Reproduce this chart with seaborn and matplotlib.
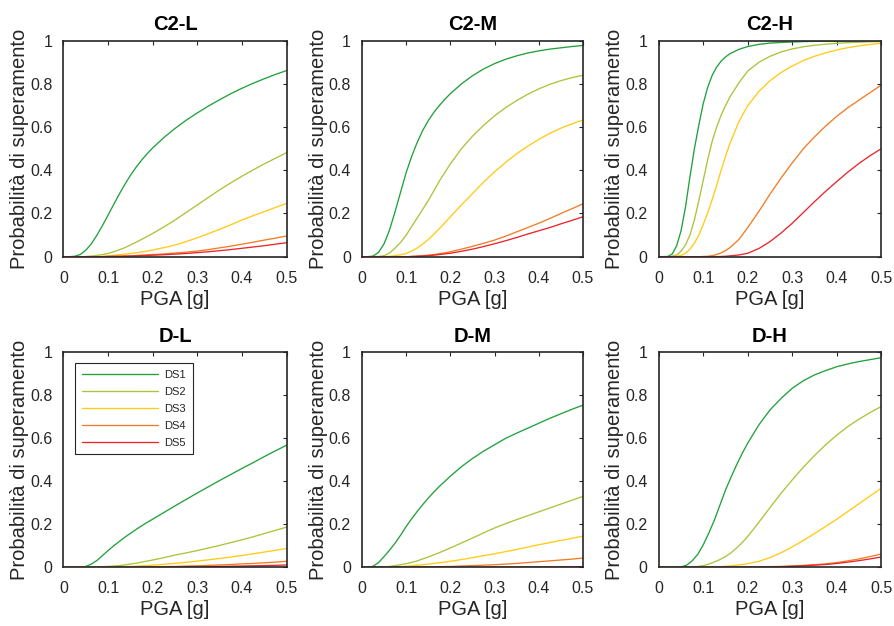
import matplotlib.pyplot as plt
import pandas as pd
import seaborn as sns

# PGA grid [g], denser at low PGA where the curves bend most
pga = [0.0, 0.0125, 0.025, 0.0375, 0.05, 0.0625, 0.075, 0.0875, 0.1, 0.1125, 0.125,
       0.1375, 0.15, 0.1625, 0.175, 0.1875, 0.2, 0.225, 0.25, 0.275, 0.3, 0.325,
       0.35, 0.375, 0.4, 0.425, 0.45, 0.475, 0.5]
# C2-H is read on its own grid because its curves are steep
pga_h = [0.0, 0.02, 0.03, 0.04, 0.05, 0.06, 0.07, 0.08, 0.09, 0.1, 0.11, 0.12,
         0.13, 0.14, 0.15, 0.16, 0.18, 0.2, 0.225, 0.25, 0.275, 0.3, 0.325,
         0.35, 0.375, 0.4, 0.425, 0.45, 0.475, 0.5]

damage_states = ["DS1", "DS2", "DS3", "DS4", "DS5"]
ds_colors = ["#21a13c", "#a9c53a", "#ffcb14", "#f47b25", "#e8262b"]

# exceedance probabilities, one row per damage state
c2_l = [
    [0, 0, 0.002, 0.01, 0.03, 0.06, 0.10, 0.145, 0.193, 0.242, 0.29, 0.335, 0.377, 0.414, 0.447, 0.477, 0.504,
     0.552, 0.594, 0.632, 0.666, 0.698, 0.727, 0.755, 0.78, 0.803, 0.824, 0.844, 0.862],
    [0, 0, 0, 0, 0.001, 0.003, 0.006, 0.01, 0.015, 0.023, 0.032, 0.042, 0.054, 0.067, 0.08, 0.094, 0.108,
     0.138, 0.17, 0.205, 0.24, 0.275, 0.31, 0.342, 0.373, 0.402, 0.43, 0.456, 0.482],
    [0, 0, 0, 0, 0, 0.0005, 0.001, 0.002, 0.004, 0.006, 0.009, 0.012, 0.015, 0.018, 0.022, 0.026, 0.031,
     0.042, 0.054, 0.07, 0.088, 0.107, 0.127, 0.148, 0.17, 0.19, 0.209, 0.228, 0.247],
    [0, 0, 0, 0, 0, 0, 0, 0, 0.001, 0.0015, 0.002, 0.003, 0.004, 0.0055, 0.007, 0.0085, 0.01,
     0.013, 0.017, 0.021, 0.026, 0.033, 0.041, 0.049, 0.058, 0.067, 0.077, 0.086, 0.096],
    [0, 0, 0, 0, 0, 0, 0, 0, 0.001, 0.0015, 0.002, 0.0025, 0.003, 0.004, 0.005, 0.006, 0.007,
     0.009, 0.012, 0.015, 0.019, 0.023, 0.028, 0.033, 0.039, 0.045, 0.051, 0.058, 0.065],
]
c2_m = [
    [0, 0, 0.003, 0.02, 0.06, 0.125, 0.21, 0.30, 0.39, 0.465, 0.53, 0.585, 0.63, 0.668, 0.70, 0.729, 0.755,
     0.80, 0.838, 0.869, 0.894, 0.914, 0.93, 0.943, 0.953, 0.961, 0.967, 0.973, 0.978],
    [0, 0, 0, 0.001, 0.005, 0.017, 0.04, 0.067, 0.10, 0.14, 0.18, 0.22, 0.26, 0.305, 0.35, 0.39, 0.43,
     0.50, 0.558, 0.608, 0.652, 0.69, 0.723, 0.752, 0.777, 0.798, 0.815, 0.829, 0.84],
    [0, 0, 0, 0, 0, 0.002, 0.005, 0.009, 0.015, 0.026, 0.04, 0.058, 0.08, 0.104, 0.13, 0.157, 0.185,
     0.24, 0.292, 0.345, 0.393, 0.437, 0.477, 0.512, 0.543, 0.571, 0.595, 0.615, 0.633],
    [0, 0, 0, 0, 0, 0, 0, 0, 0, 0.001, 0.003, 0.005, 0.007, 0.01, 0.014, 0.018, 0.023,
     0.035, 0.048, 0.062, 0.077, 0.095, 0.115, 0.135, 0.155, 0.177, 0.20, 0.222, 0.245],
    [0, 0, 0, 0, 0, 0, 0, 0, 0, 0.001, 0.002, 0.003, 0.005, 0.007, 0.01, 0.013, 0.016,
     0.025, 0.035, 0.047, 0.06, 0.074, 0.089, 0.105, 0.12, 0.135, 0.152, 0.168, 0.185],
]
c2_h = [
    [0, 0.001, 0.012, 0.05, 0.12, 0.23, 0.37, 0.50, 0.61, 0.71, 0.785, 0.84, 0.878, 0.905, 0.925, 0.94, 0.96,
     0.973, 0.983, 0.989, 0.992, 0.994, 0.996, 0.997, 0.998, 0.998, 0.999, 0.999, 0.999, 1.0],
    [0, 0, 0.002, 0.008, 0.025, 0.055, 0.10, 0.17, 0.26, 0.355, 0.45, 0.535, 0.60, 0.655, 0.70, 0.74, 0.805,
     0.86, 0.90, 0.928, 0.948, 0.962, 0.972, 0.979, 0.984, 0.988, 0.991, 0.993, 0.995, 0.996],
    [0, 0, 0, 0.002, 0.006, 0.016, 0.035, 0.063, 0.10, 0.15, 0.205, 0.265, 0.33, 0.40, 0.465, 0.525, 0.625,
     0.70, 0.765, 0.815, 0.853, 0.883, 0.908, 0.928, 0.944, 0.957, 0.968, 0.976, 0.983, 0.988],
    [0, 0, 0, 0, 0, 0, 0, 0, 0, 0.001, 0.002, 0.005, 0.01, 0.018, 0.028, 0.042, 0.08,
     0.135, 0.21, 0.29, 0.365, 0.435, 0.50, 0.555, 0.605, 0.65, 0.69, 0.725, 0.76, 0.795],
    [0, 0, 0, 0, 0, 0, 0, 0, 0, 0, 0, 0, 0, 0.001, 0.002, 0.004, 0.008,
     0.016, 0.038, 0.07, 0.11, 0.155, 0.205, 0.255, 0.303, 0.348, 0.392, 0.432, 0.468, 0.50],
]
d_l = [
    [0, 0, 0, 0, 0.004, 0.015, 0.032, 0.055, 0.078, 0.10, 0.12, 0.14, 0.158, 0.176, 0.193, 0.209, 0.224,
     0.255, 0.286, 0.316, 0.346, 0.375, 0.404, 0.432, 0.46, 0.487, 0.515, 0.542, 0.568],
    [0, 0, 0, 0, 0, 0.001, 0.002, 0.003, 0.004, 0.006, 0.008, 0.011, 0.015, 0.019, 0.024, 0.029, 0.034,
     0.045, 0.057, 0.067, 0.078, 0.09, 0.102, 0.115, 0.128, 0.142, 0.157, 0.172, 0.187],
    [0, 0, 0, 0, 0, 0, 0, 0, 0, 0.001, 0.002, 0.003, 0.004, 0.005, 0.007, 0.008, 0.01,
     0.014, 0.018, 0.023, 0.029, 0.035, 0.041, 0.048, 0.055, 0.063, 0.071, 0.079, 0.088],
    [0, 0, 0, 0, 0, 0, 0, 0, 0, 0, 0, 0, 0, 0, 0.001, 0.0015, 0.002,
     0.003, 0.004, 0.006, 0.007, 0.009, 0.011, 0.013, 0.016, 0.018, 0.021, 0.024, 0.028],
    [0, 0, 0, 0, 0, 0, 0, 0, 0, 0, 0, 0, 0, 0, 0, 0, 0,
     0.001, 0.001, 0.002, 0.002, 0.003, 0.004, 0.005, 0.006, 0.007, 0.008, 0.009, 0.011],
]
d_m = [
    [0, 0, 0.005, 0.022, 0.05, 0.08, 0.113, 0.15, 0.19, 0.226, 0.26, 0.292, 0.322, 0.35, 0.376, 0.40, 0.424,
     0.468, 0.506, 0.54, 0.57, 0.60, 0.624, 0.647, 0.67, 0.693, 0.714, 0.735, 0.754],
    [0, 0, 0, 0.001, 0.002, 0.004, 0.008, 0.012, 0.017, 0.023, 0.03, 0.039, 0.048, 0.058, 0.068, 0.079, 0.09,
     0.113, 0.136, 0.16, 0.183, 0.203, 0.222, 0.24, 0.258, 0.276, 0.294, 0.312, 0.33],
    [0, 0, 0, 0, 0, 0.001, 0.002, 0.003, 0.005, 0.007, 0.01, 0.012, 0.015, 0.018, 0.021, 0.024, 0.028,
     0.036, 0.045, 0.054, 0.063, 0.073, 0.083, 0.094, 0.105, 0.115, 0.125, 0.135, 0.145],
    [0, 0, 0, 0, 0, 0, 0, 0, 0, 0, 0.001, 0.0015, 0.002, 0.0025, 0.003, 0.0035, 0.004,
     0.006, 0.008, 0.01, 0.012, 0.015, 0.018, 0.022, 0.026, 0.03, 0.034, 0.038, 0.043],
    [0, 0, 0, 0, 0, 0, 0, 0, 0, 0, 0, 0, 0, 0, 0, 0, 0,
     0, 0, 0, 0.001, 0.001, 0.001, 0.001, 0.002, 0.002, 0.002, 0.003, 0.003],
]
d_h = [
    [0, 0, 0, 0, 0.002, 0.01, 0.03, 0.06, 0.105, 0.16, 0.22, 0.29, 0.36, 0.42, 0.477, 0.53, 0.578,
     0.663, 0.732, 0.786, 0.833, 0.868, 0.895, 0.915, 0.933, 0.946, 0.957, 0.966, 0.975],
    [0, 0, 0, 0, 0, 0, 0.001, 0.004, 0.008, 0.015, 0.025, 0.036, 0.05, 0.068, 0.09, 0.115, 0.144,
     0.21, 0.278, 0.345, 0.407, 0.466, 0.52, 0.57, 0.615, 0.655, 0.689, 0.72, 0.748],
    [0, 0, 0, 0, 0, 0, 0, 0, 0, 0.001, 0.002, 0.003, 0.005, 0.007, 0.01, 0.013, 0.017,
     0.028, 0.045, 0.068, 0.095, 0.125, 0.157, 0.19, 0.224, 0.26, 0.296, 0.332, 0.368],
    [0, 0, 0, 0, 0, 0, 0, 0, 0, 0, 0, 0, 0, 0, 0, 0.0005, 0.001,
     0.002, 0.003, 0.004, 0.006, 0.009, 0.012, 0.016, 0.022, 0.03, 0.039, 0.05, 0.062],
    [0, 0, 0, 0, 0, 0, 0, 0, 0, 0, 0, 0, 0, 0, 0, 0, 0,
     0.001, 0.002, 0.003, 0.005, 0.007, 0.01, 0.013, 0.018, 0.024, 0.031, 0.039, 0.048],
]

panels = [("C2-L", pga, c2_l), ("C2-M", pga, c2_m), ("C2-H", pga_h, c2_h),
          ("D-L", pga, d_l), ("D-M", pga, d_m), ("D-H", pga, d_h)]

x_ticks = [0, 0.1, 0.2, 0.3, 0.4, 0.5]
x_tick_labels = ["0", "0.1", "0.2", "0.3", "0.4", "0.5"]
y_ticks = [0, 0.2, 0.4, 0.6, 0.8, 1]
y_tick_labels = ["0", "0.2", "0.4", "0.6", "0.8", "1"]

sns.set_style("white")
plt.rcParams["font.family"] = ["Liberation Sans", "DejaVu Sans"]

fig = plt.figure(figsize=(8.95, 6.26), dpi=100)

# axes boxes in figure pixels: left, right, top, bottom
W, H = 895, 626
boxes = [(63.5, 286.7, 40.7, 256.7), (362.0, 583.0, 40.7, 256.7), (658.8, 881.3, 40.7, 256.7),
         (63.5, 286.7, 352.3, 567.3), (362.0, 583.0, 352.3, 567.3), (658.8, 881.3, 352.3, 567.3)]

dark = "#262626"
for (name, x, curves), (l, r, t, b) in zip(panels, boxes):
    ax = fig.add_axes([l / W, 1 - b / H, (r - l) / W, (b - t) / H])
    df = pd.DataFrame({
        "PGA": [v for _ in damage_states for v in x],
        "P": [p for row in curves for p in row],
        "DS": [ds for ds in damage_states for _ in x],
    })
    sns.lineplot(data=df, x="PGA", y="P", hue="DS", hue_order=damage_states,
                 palette=ds_colors, linewidth=0.95, estimator=None, sort=False,
                 legend=(name == "D-L"), ax=ax)

    ax.set_xlim(0, 0.5)
    ax.set_ylim(0, 1)
    ax.set_xticks(x_ticks)
    ax.set_xticklabels(x_tick_labels)
    ax.set_yticks(y_ticks)
    ax.set_yticklabels(y_tick_labels)
    ax.tick_params(direction="in", top=True, right=True, length=3, width=0.8,
                   color=dark, labelcolor=dark, labelsize=11.5)
    ax.tick_params(axis="x", pad=10)
    ax.tick_params(axis="y", pad=8)
    for sp in ax.spines.values():
        sp.set_linewidth(1.2)
        sp.set_color(dark)

    ax.set_title(name, fontsize=14.5, fontweight="bold", pad=7.5, color="black")
    ax.set_xlabel("PGA [g]", fontsize=14.5, color=dark)
    ax.set_ylabel("Probabilità di superamento", fontsize=14.5, color=dark)
    ax.xaxis.set_label_coords(0.5, -0.152)
    ax.yaxis.set_label_coords(-0.155, 0.5)

    if name == "D-L":
        handles, labels = ax.get_legend_handles_labels()
        leg = ax.legend(handles, labels, loc="upper left", bbox_to_anchor=(0.0515, 0.9516),
                        borderaxespad=0, fontsize=8, handlelength=6.85, handletextpad=0.55,
                        labelspacing=0.63, borderpad=0.62, frameon=True, fancybox=False,
                        framealpha=1, edgecolor=dark)
        leg.get_frame().set_linewidth(0.8)

plt.savefig("out.png", dpi=100)
